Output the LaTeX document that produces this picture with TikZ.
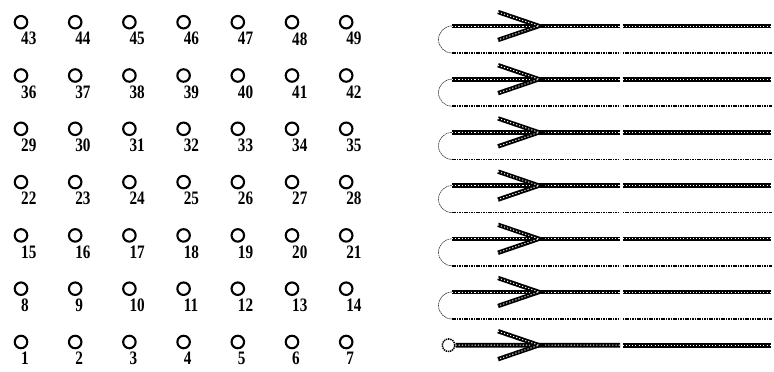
\documentclass[tikz,border=0pt]{standalone}
\usepackage{fontspec}
\setmainfont{Liberation Serif}
\begin{document}
\begin{tikzpicture}[x=1pt,y=-1pt,
  gridpt/.style={circle,draw=black,line width=2.1pt,minimum size=12.5pt,inner sep=0pt},
  numlbl/.style={anchor=north west,inner sep=0pt,font=\fontsize{19}{19}\selectfont\bfseries,xscale=0.8},
  railbase/.style={line width=4.6pt,black},
  railtop/.style={line width=1.0pt,white,dash pattern=on 1.1pt off 2.1pt},
  armbase/.style={line width=4.4pt,black},
  armtop/.style={line width=1.0pt,white,dash pattern=on 1.1pt off 2.1pt},
  retline/.style={line width=1.5pt,black,dash pattern=on 1.6pt off 0.8pt},
  turn/.style={line width=0.6pt,black!75,dash pattern=on 2pt off 0.6pt},
  startpt/.style={circle,draw=black,line width=1.5pt,dash pattern=on 1.4pt off 0.8pt,minimum size=12.5pt,inner sep=0pt}]
\useasboundingbox (0,0) rectangle (774,372);
% grid of numbered points
\foreach \r in {0,...,6}{
  \foreach \c in {0,...,6}{
    \pgfmathtruncatemacro{\n}{\r*7+\c+1}
    \pgfmathsetmacro{\px}{21+54.2*\c}
    \pgfmathsetmacro{\py}{342-53.3*\r}
    \node[gridpt] (c\n) at (\px,\py) {};
    \node[numlbl] (l\n) at (\px,\py+10) {\n};
  }
}
% right panel: boustrophedon path
\foreach \k in {0,...,6}{
  \pgfmathsetmacro{\ty}{26+53.2*\k}
  \coordinate (ta\k) at (452,\ty);
  \coordinate (tm\k) at (620,\ty);
  \coordinate (tn\k) at (622.5,\ty);
  \coordinate (tb\k) at (771,\ty);
  \coordinate (ap\k) at (539,\ty);
  \coordinate (au\k) at (498,\ty-14);
  \coordinate (ad\k) at (498,\ty+14);
}
\foreach \k in {0,...,5}{
  \pgfmathsetmacro{\dy}{26+53.2*\k+27}
  \coordinate (ra\k) at (452,\dy);
  \coordinate (rm\k) at (620,\dy);
  \coordinate (rn\k) at (622.5,\dy);
  \coordinate (rb\k) at (772,\dy);
  \draw[retline] (ra\k) -- (rm\k);
  \draw[retline] (rn\k) -- (rb\k);
  \draw[turn] (ta\k) arc[start angle=-90,end angle=-270,radius=13.5];
}
\node[startpt] (s0) at (448.5,345.2) {};
\foreach \k in {0,...,6}{
  \ifnum\k=6
    \draw[railbase] (s0.east) -- (tm\k);
    \draw[railtop] (s0.east) -- (tm\k);
  \else
    \draw[railbase] (ta\k) -- (tm\k);
    \draw[railtop] (ta\k) -- (tm\k);
  \fi
  \draw[railbase] (tn\k) -- (tb\k);
  \draw[railtop] (tn\k) -- (tb\k);
  \draw[armbase] (au\k) -- (ap\k) -- (ad\k);
  \draw[armtop] (au\k) -- (ap\k) -- (ad\k);
}
\end{tikzpicture}
\end{document}
